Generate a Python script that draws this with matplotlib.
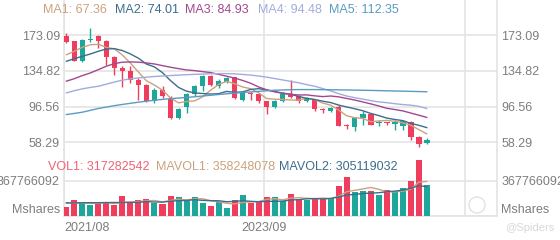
import numpy as np
import matplotlib
matplotlib.use("Agg")
import matplotlib.pyplot as plt
from matplotlib.patches import Ellipse

plt.rcParams['font.family'] = ['Liberation Sans', 'DejaVu Sans']

# datos de las velas (mensuales)
opens = [171.7, 166.4, 145.6, 167.5, 171.7, 167.0, 149.3, 137.9, 135.0, 125.4,
         119.4, 102.3, 114.7, 105.1, 83.8, 95.9, 110.1, 118.3, 129.0, 118.3,
         122.9, 128.0, 104.0, 111.2, 110.4, 102.3, 96.2, 102.0, 109.0, 107.5,
         102.3, 104.0, 93.5, 91.8, 96.0, 76.5, 75.0, 83.8, 89.1, 78.5,
         79.5, 78.0, 75.8, 80.2, 64.0, 57.5]
closes = [165.6, 145.6, 168.1, 169.0, 167.0, 149.3, 137.9, 135.0, 125.4, 119.4,
          103.0, 114.7, 107.6, 83.8, 93.4, 110.1, 118.3, 129.0, 119.4, 123.7,
          127.2, 105.8, 111.2, 110.0, 102.3, 96.2, 102.3, 110.4, 106.5, 102.3,
          105.8, 94.4, 92.5, 95.0, 76.0, 75.5, 83.8, 89.1, 77.3, 79.8,
          78.5, 79.5, 80.9, 64.2, 56.5, 60.5]
highs = [175.2, 167.0, 168.8, 180.5, 173.0, 168.0, 151.0, 139.7, 140.3, 127.0,
         120.5, 116.0, 118.3, 108.0, 95.0, 111.5, 119.5, 130.0, 130.4, 126.0,
         128.0, 128.6, 112.0, 112.6, 111.5, 103.0, 103.5, 112.0, 124.7, 108.5,
         107.0, 104.5, 94.5, 96.5, 98.4, 78.0, 84.5, 92.0, 90.0, 82.0,
         80.5, 82.0, 82.5, 81.5, 64.8, 63.0]
lows = [164.5, 145.0, 144.6, 166.0, 159.2, 141.4, 130.7, 117.3, 121.5, 104.0,
        101.9, 100.2, 105.4, 83.5, 83.0, 89.8, 107.5, 113.0, 118.0, 116.0,
        121.5, 104.5, 103.0, 103.7, 100.0, 89.1, 95.0, 101.0, 105.5, 100.2,
        101.0, 92.0, 90.0, 90.5, 75.5, 72.0, 70.6, 77.0, 76.5, 76.0,
        76.5, 71.6, 71.0, 61.0, 52.8, 56.0]

# medias moviles
ma1 = [152.0, 155.7, 160.0, 162.7, 163.1, 159.8, 158.3, 151.6, 142.9, 133.4,
       124.1, 119.5, 114.0, 105.7, 100.5, 101.9, 102.6, 106.9, 114.0, 120.1,
       123.5, 121.0, 117.5, 115.6, 111.3, 105.1, 104.4, 104.2, 103.5, 103.5,
       105.5, 103.9, 100.3, 98.0, 92.7, 86.7, 84.6, 83.9, 80.3, 81.1,
       81.7, 80.8, 79.2, 76.6, 71.9, 67.4]
ma2 = [145.0, 147.8, 150.3, 152.8, 155.7, 158.1, 158.5, 156.4, 152.8, 148.2,
       142.0, 138.9, 132.8, 124.3, 117.0, 113.0, 111.1, 110.5, 109.9, 110.3,
       112.7, 111.8, 112.2, 114.8, 115.7, 114.3, 112.7, 110.9, 109.6, 107.4,
       105.3, 104.1, 102.3, 100.8, 98.1, 96.1, 94.2, 92.1, 89.2, 86.9,
       84.2, 82.7, 81.5, 78.5, 76.5, 74.0]
ma3 = [123.7, 126.4, 129.7, 132.5, 136.1, 139.7, 142.5, 144.0, 144.3, 144.0,
       143.2, 142.1, 140.3, 138.6, 137.1, 135.7, 135.0, 133.9, 132.9, 131.0,
       129.0, 127.0, 124.5, 121.5, 117.5, 114.5, 112.3, 110.7, 109.7, 108.9,
       109.0, 108.0, 107.2, 107.8, 106.9, 105.2, 103.5, 101.5, 99.4, 97.2,
       94.7, 93.4, 91.9, 89.6, 87.3, 84.9]
ma4 = [111.2, 113.5, 115.5, 117.0, 118.3, 120.5, 122.8, 124.8, 126.2, 127.2,
       128.0, 128.7, 129.2, 129.7, 130.2, 130.6, 131.0, 131.3, 131.6, 131.8,
       131.8, 131.5, 130.9, 130.2, 129.2, 128.0, 126.5, 125.0, 123.5, 122.0,
       120.0, 118.3, 115.8, 113.3, 110.3, 107.8, 106.0, 104.5, 102.9, 101.5,
       100.7, 99.6, 98.7, 98.0, 96.8, 94.5]
ma5 = [88.0, 89.2, 90.5, 92.5, 94.5, 96.0, 97.5, 98.8, 100.0, 101.2,
       102.3, 103.3, 104.2, 105.0, 105.6, 106.3, 107.0, 107.8, 108.6, 109.4,
       110.2, 110.9, 111.5, 112.2, 112.8, 113.4, 114.0, 114.3, 114.6, 114.7,
       114.7, 114.7, 114.6, 114.5, 114.4, 114.3, 114.1, 114.0, 113.8, 113.6,
       113.4, 113.2, 113.0, 112.8, 112.6, 112.35]

# volumen en millones de acciones
volume = [93, 169, 144, 117, 134, 134, 117, 206, 130, 162,
          172, 137, 127, 206, 199, 155, 196, 137, 103, 144,
          79, 162, 213, 134, 155, 196, 196, 155, 223, 178,
          168, 178, 185, 185, 309, 402, 247, 257, 264, 213,
          271, 247, 288, 367, 581, 317.28]
mavol1 = [138, 136, 134, 132, 131, 140, 129, 142, 144, 150,
          157, 161, 146, 161, 174, 167, 177, 179, 158, 147,
          132, 125, 140, 146, 149, 172, 179, 167, 185, 190,
          184, 180, 186, 179, 205, 252, 266, 280, 296, 277,
          250, 250, 257, 277, 351, 358]
mavol2 = [135, 136, 137, 138, 138, 139, 140, 140, 141, 141,
          149, 145, 144, 153, 159, 161, 169, 162, 159, 158,
          148, 151, 159, 152, 148, 152, 152, 154, 166, 169,
          178, 180, 177, 182, 197, 218, 223, 233, 237, 241,
          251, 258, 268, 287, 314, 305]

price_ticks = [58.29, 96.56, 134.82, 173.09]
price_labels = ['58.29', '96.56', '134.82', '173.09']
vol_ticks = [0, 367766092]
vol_labels = ['Mshares', '367766092']
date_labels = ['2021/08', '2023/09', '']

ma_texts = ['MA1: 67.36', 'MA2: 74.01', 'MA3: 84.93', 'MA4: 94.48', 'MA5: 112.35']
vol_texts = ['VOL1: 317282542', 'MAVOL1: 358248078', 'MAVOL2: 305119032']

UP = '#1ea69b'
DOWN = '#f03d5e'
MA_COLORS = ['#cba27f', '#3d6d8c', '#a3478f', '#a2abdc', '#5b9bc3']
GRID = '#e4e4e4'
TXT = '#7d7d7d'

W, H = 560, 240


def px(x, y):
    return x / W, 1 - y / H


fig = plt.figure(figsize=(W / 100, H / 100), dpi=100)
ax1 = fig.add_axes([64 / W, 1 - 150 / H, 433 / W, 150 / H])
ax2 = fig.add_axes([64 / W, 1 - 216 / H, 433 / W, 66 / H])

x = np.arange(len(closes))
o = np.array(opens)
c = np.array(closes)
colors = [UP if cc >= oo else DOWN for oo, cc in zip(o, c)]

# velas
ax1.vlines(x, lows, highs, colors=colors, linewidth=1, zorder=3)
body_low = np.minimum(o, c)
body_h = np.maximum(np.abs(c - o), 1.0)
ax1.bar(x, body_h, bottom=body_low, width=0.7, color=colors, zorder=4)

for vals, col in zip([ma1, ma2, ma3, ma4, ma5], MA_COLORS):
    ax1.plot(x, vals, color=col, linewidth=1, zorder=5)

# eje de precios
k = (173.09 - 58.29) / (142.3 - 35)
ax1.set_ylim(58.29 - (150 - 142.3) * k, 173.09 + 35 * k)
ax1.set_yticks(price_ticks)
ax1.set_yticklabels(price_labels)

# volumen
vol = np.array(volume) * 1e6
ax2.bar(x, vol, width=0.75, color=colors, zorder=3)
ax2.plot(x, np.array(mavol1) * 1e6, color=MA_COLORS[0], linewidth=1, zorder=4)
ax2.plot(x, np.array(mavol2) * 1e6, color=MA_COLORS[1], linewidth=1, zorder=4)
kv = 367766092 / (216 - 180.5)
ax2.set_ylim(0, 66 * kv)
ax2.set_yticks(vol_ticks)
ax2.set_yticklabels(vol_labels)

xticks = [-0.3, 24.7, 49.75]
for ax in (ax1, ax2):
    ax.set_xlim(-0.29, 53.77)
    ax.set_xticks(xticks)
    ax.set_axisbelow(True)
    ax.grid(True, color=GRID, linewidth=1.2)
    ax.tick_params(length=0, labelsize=9, colors=TXT, labelleft=True, labelright=True)
    ax.tick_params(axis='y', pad=3)
    ax.spines['top'].set_visible(False)
    for s in ('left', 'right', 'bottom'):
        ax.spines[s].set_color(GRID)
        ax.spines[s].set_linewidth(1.2)
    ax.set_facecolor('none')

# "Mshares" un poco por encima de la base, a ambos lados
t0 = ax2.yaxis.get_major_ticks()[0]
t0.label1.set_va('bottom')
t0.label2.set_va('bottom')

ax1.spines['bottom'].set_visible(False)
ax1.set_xticklabels([])
ax2.set_xticklabels(date_labels)
ax2.tick_params(axis='x', pad=4)
ax2.get_xticklabels()[0].set_ha('left')

# leyendas de texto
ma_x = [43, 115, 185, 258, 329]
for t, xx, col in zip(ma_texts, ma_x, MA_COLORS):
    fig.text(*px(xx, 10), t, color=col, fontsize=9, va='center', ha='left')
vol_x = [48, 156, 279]
for t, xx, col in zip(vol_texts, vol_x, ['#ee6275', MA_COLORS[0], MA_COLORS[1]]):
    fig.text(*px(xx, 166.5), t, color=col, fontsize=9, va='center', ha='left')

# marca de agua
fig.add_artist(Ellipse(px(477, 205), 16 / W, 16 / H, fill=False, ec='#e2e2e2',
                       lw=1, transform=fig.transFigure))
fig.text(*px(505, 228), '@Spiders', color='#d8d8d8', fontsize=8, va='center', ha='left')

fig.savefig('out.png', dpi=100, facecolor='white')
